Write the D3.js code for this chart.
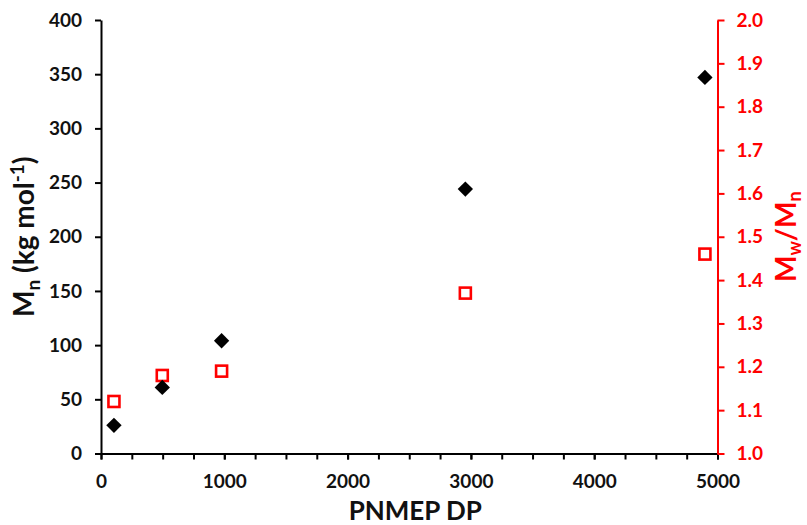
<!DOCTYPE html>
<html>
<head>
<meta charset="utf-8">
<script src="https://cdn.jsdelivr.net/npm/d3@7"></script>
<style>
  html, body { margin: 0; padding: 0; background: #fff; }
  svg { display: block; }
  text { font-family: Lato, "Liberation Sans", sans-serif; font-weight: bold; }
</style>
</head>
<body>
<div id="chart"></div>
<script>
// ---- data ----
const dp = [105, 497, 978, 2955, 4898];
const mn = [26, 61, 104, 244, 347];          // kg/mol, left axis
const dispersity = [1.12, 1.18, 1.19, 1.37, 1.46]; // right axis
const xTicks = [0, 1000, 2000, 3000, 4000, 5000];
const xMinorTicks = d3.range(0, 5001, 250);
const yLeftTicks = [0, 50, 100, 150, 200, 250, 300, 350, 400];
const yRightTicks = [1.0, 1.1, 1.2, 1.3, 1.4, 1.5, 1.6, 1.7, 1.8, 1.9, 2.0];

const W = 807, H = 525;
const plot = { left: 101, right: 717.5, top: 20, bottom: 453.5 };
const RED = "#ff0000";

const svg = d3.select("#chart").append("svg").attr("width", W).attr("height", H);

const x = d3.scaleLinear().domain([0, 5000]).range([plot.left, plot.right]);
const yL = d3.scaleLinear().domain([0, 400]).range([plot.bottom, plot.top]);
const yR = d3.scaleLinear().domain([1.0, 2.0]).range([plot.bottom, plot.top]);

// x axis minor ticks
svg.append("g")
  .attr("transform", `translate(0,${plot.bottom})`)
  .call(d3.axisBottom(x).tickValues(xMinorTicks).tickSize(6).tickFormat(""))
  .call(g => g.select(".domain").remove())
  .call(g => g.selectAll("line").attr("stroke", "#000").attr("stroke-width", 2));

// x axis major
const gx = svg.append("g")
  .attr("transform", `translate(0,${plot.bottom})`)
  .call(d3.axisBottom(x).tickValues(xTicks).tickSize(6).tickSizeOuter(0).tickPadding(15).tickFormat(d3.format("d")));
gx.select(".domain").attr("stroke", "#000").attr("stroke-width", 2);
gx.selectAll("line").attr("stroke", "#000").attr("stroke-width", 2);
gx.selectAll("text").attr("font-size", 19).attr("fill", "#111").attr("font-family", "Lato, sans-serif").attr("font-weight", "bold");

// left axis
const gyl = svg.append("g")
  .attr("transform", `translate(${plot.left},0)`)
  .call(d3.axisLeft(yL).tickValues(yLeftTicks).tickSize(6).tickSizeOuter(0).tickPadding(13).tickFormat(d3.format("d")));
gyl.select(".domain").attr("stroke", "#000").attr("stroke-width", 2);
gyl.selectAll("line").attr("stroke", "#000").attr("stroke-width", 2);
gyl.selectAll("text").attr("font-size", 19).attr("fill", "#111").attr("font-family", "Lato, sans-serif").attr("font-weight", "bold");

// right axis
const gyr = svg.append("g")
  .attr("transform", `translate(${plot.right},0)`)
  .call(d3.axisRight(yR).tickValues(yRightTicks).tickSize(7).tickSizeOuter(0).tickPadding(12).tickFormat(d3.format(".1f")));
gyr.select(".domain").attr("stroke", RED).attr("stroke-width", 2);
gyr.selectAll("line").attr("stroke", RED).attr("stroke-width", 2);
gyr.selectAll("text").attr("font-size", 19).attr("fill", RED).attr("font-family", "Lato, sans-serif").attr("font-weight", "bold");

// red squares (dispersity)
svg.append("g").selectAll("rect")
  .data(dp.map((d, i) => ({ x: d, y: dispersity[i] })))
  .join("rect")
  .attr("x", d => x(d.x) - 5.5)
  .attr("y", d => yR(d.y) - 5.5)
  .attr("width", 11).attr("height", 11)
  .attr("fill", "#fff").attr("stroke", RED).attr("stroke-width", 2.6);

// black diamonds (Mn)
const diamond = d3.symbol().type(d3.symbolDiamond2).size(150);
svg.append("g").selectAll("path")
  .data(dp.map((d, i) => ({ x: d, y: mn[i] })))
  .join("path")
  .attr("transform", d => `translate(${x(d.x)},${yL(d.y)})`)
  .attr("d", diamond)
  .attr("fill", "#000");

// axis titles
svg.append("text")
  .attr("x", (plot.left + plot.right) / 2 + 6).attr("y", 520)
  .attr("text-anchor", "middle").attr("font-size", 26).attr("fill", "#111")
  .text("PNMEP DP");

const lt = svg.append("text")
  .attr("transform", `translate(34,${(plot.top + plot.bottom) / 2}) rotate(-90)`)
  .attr("text-anchor", "middle").attr("font-size", 28).attr("fill", "#111");
lt.append("tspan").text("M");
lt.append("tspan").attr("font-size", 19).attr("dy", 6).text("n");
lt.append("tspan").attr("dy", -6).text(" (kg mol");
lt.append("tspan").attr("font-size", 19).attr("dy", -10).text("-1");
lt.append("tspan").attr("dy", 10).text(")");

const rt = svg.append("text")
  .attr("transform", `translate(796,${(plot.top + plot.bottom) / 2}) rotate(-90)`)
  .attr("text-anchor", "middle").attr("font-size", 28).attr("fill", RED);
rt.append("tspan").text("M");
rt.append("tspan").attr("font-size", 18).attr("dy", 5).text("w");
rt.append("tspan").attr("dy", -5).text("/M");
rt.append("tspan").attr("font-size", 18).attr("dy", 5).text("n");
</script>
</body>
</html>
